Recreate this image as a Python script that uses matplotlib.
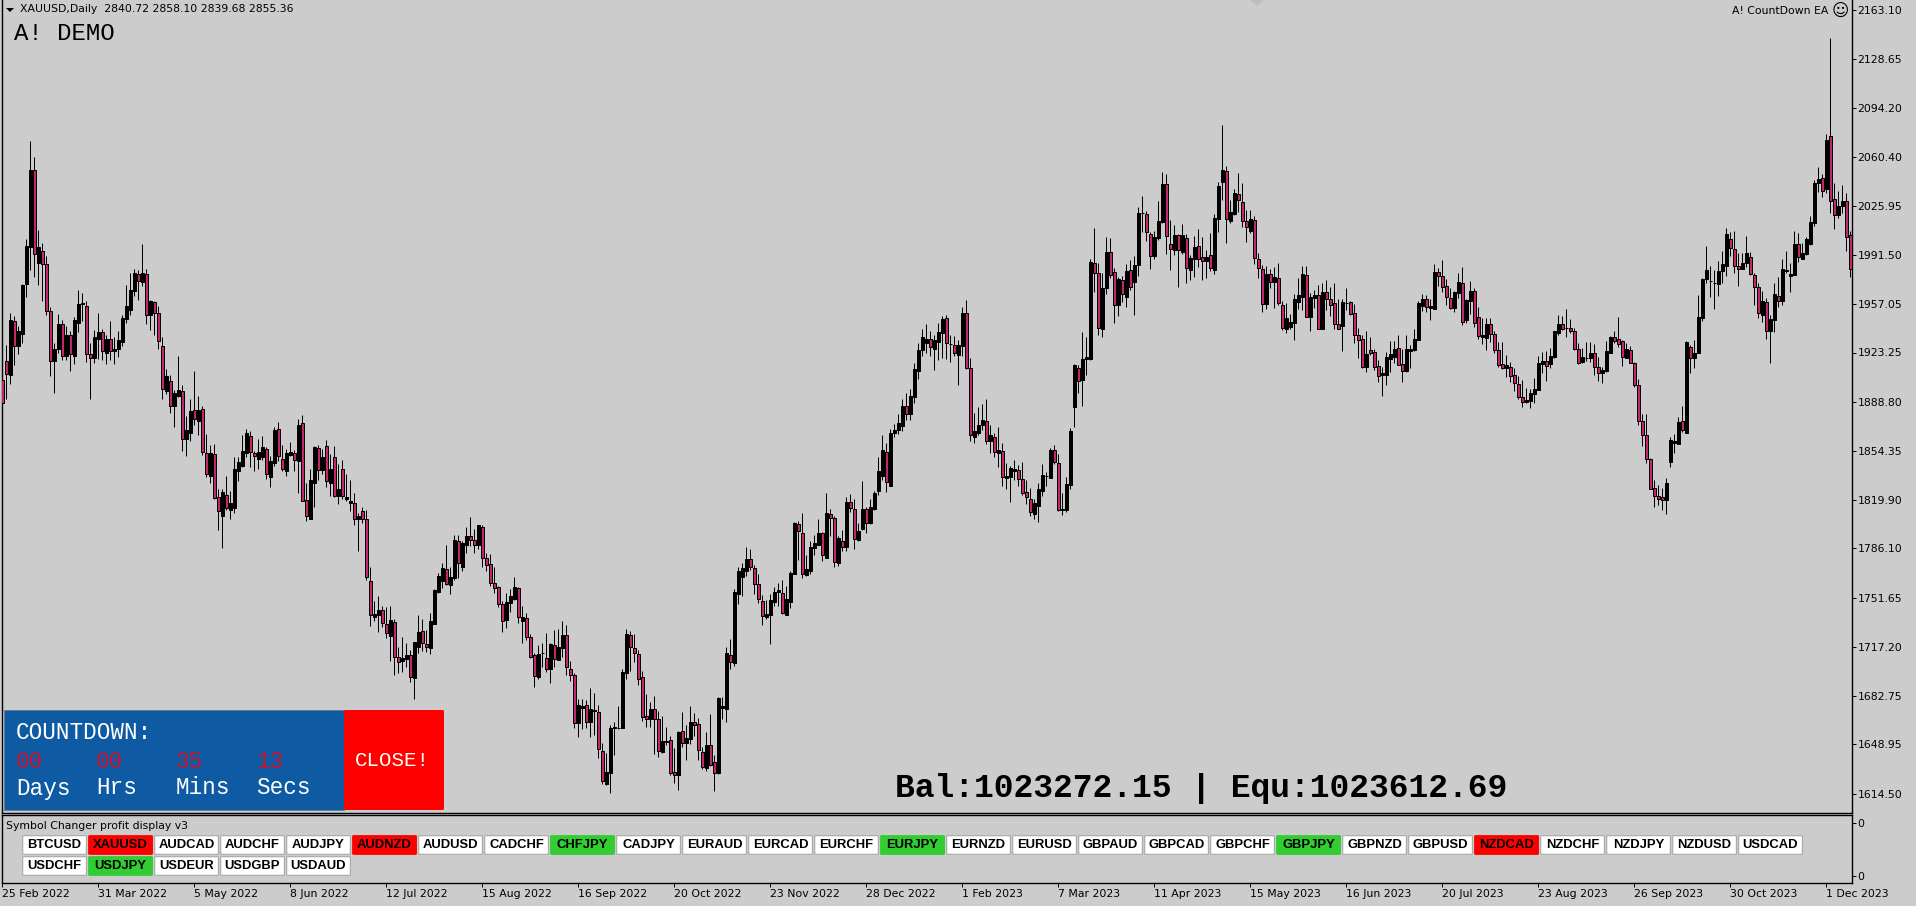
import matplotlib
matplotlib.use("Agg")
import matplotlib.pyplot as plt
import numpy as np
from matplotlib.patches import FancyBboxPatch, Polygon, Rectangle

# ---- candle data, one row = 10 daily bars ----
opens = [
    1904, 1917, 1907.5, 1945, 1928, 1936, 1971, 1997, 2051, 1986,
    1994, 1985, 1952, 1917.5, 1926, 1943, 1921, 1935.5, 1921, 1944,
    1957.5, 1956, 1922.5, 1919.5, 1933, 1937.5, 1922.7, 1933, 1924, 1925.5,
    1930.6, 1946.7, 1953, 1966.3, 1978, 1972.6, 1978, 1949.5, 1958.4, 1950.7,
    1928, 1896, 1903, 1886, 1893, 1896, 1863, 1867, 1883, 1875.5,
    1883.5, 1852.7, 1837, 1852, 1822, 1809, 1823.5, 1813, 1814.4, 1840,
    1843.8, 1852.7, 1865, 1853, 1849, 1850.3, 1855.5, 1836.3, 1846, 1869.5,
    1848.5, 1840.5, 1851.8, 1852.7, 1847.5, 1874, 1820, 1807, 1831.7, 1856.6,
    1841, 1858, 1832, 1850, 1823, 1842, 1821, 1818, 1817.7, 1807,
    1812, 1807, 1763, 1738.3, 1739.7, 1743, 1733, 1725, 1734.4, 1709.9,
    1707.5, 1708.9, 1711.3, 1695.4, 1717.3, 1728.3, 1719.2, 1716.6, 1733.4, 1755.8,
    1763.5, 1771.5, 1760.7, 1765.2, 1791, 1773.3, 1788.7, 1794.8, 1791.8, 1788.7,
    1800.9, 1779.2, 1775, 1761.7, 1758.9, 1747.2, 1736.2, 1748.1, 1750.5, 1758.4,
    1735.5, 1737.2, 1723.9, 1711.5, 1696.4, 1712.7, 1709.2, 1702, 1718.3, 1708,
    1716.2, 1725.3, 1701.5, 1697.3, 1664.2, 1674.4, 1676.3, 1664.9, 1672.1, 1671.4,
    1644.1, 1621.2, 1628.7, 1660.5, 1660.3, 1660.6, 1699.2, 1725.5, 1716.2, 1712,
    1695.9, 1668.6, 1666.5, 1673.5, 1666.5, 1643.6, 1650.4, 1652, 1629.4, 1627.8,
    1658.3, 1650.1, 1653, 1664.4, 1663.2, 1643.6, 1632.4, 1648.5, 1636.6, 1628.7,
    1674.7, 1673.5, 1711.3, 1706.2, 1754.4, 1766.3, 1770.5, 1778.5, 1772.2, 1761,
    1749.1, 1738.1, 1739.7, 1748.9, 1755.4, 1754.7, 1739.7, 1748.6, 1768.4, 1803,
    1796.7, 1767.7, 1770.3, 1786.2, 1788.7, 1796.7, 1779.6, 1810, 1807.2, 1776.1,
    1791, 1787.3, 1818.4, 1813.9, 1791.8, 1799.7, 1813.5, 1803.9, 1813.7, 1826.5,
    1837, 1853.8, 1830, 1867, 1869, 1872, 1886, 1880, 1892, 1910,
    1925, 1930, 1932.5, 1926, 1930.6, 1937.1, 1947.2, 1929, 1928.3, 1921.7,
    1928, 1950.7, 1912.2, 1864.3, 1867.1, 1872.7, 1875, 1861.5, 1863.9, 1853.2,
    1854.1, 1835.7, 1836.4, 1840.6, 1840.8, 1834.5, 1825.4, 1820.5, 1810.2, 1815.8,
    1826.6, 1836.6, 1835.7, 1854.8, 1846.2, 1813, 1813, 1830.8, 1885.3, 1912.2,
    1904, 1918.7, 1918.7, 1985.7, 1978.7, 1939.5, 1968.4, 1993.4, 1979.4, 1956.3,
    1974, 1962.4, 1980.8, 1972.8, 1984.3, 2020.6, 2020.2, 2006.2, 1990.8, 2003.2,
    2014.6, 2041.2, 1999, 1995, 2005.3, 1993.6, 2003.2, 1981, 1988.7, 1997.8,
    1989.9, 1987.5, 1991.3, 1981, 2016.9, 2042.8, 2050.1, 2015.5, 2020.2, 2034,
    2028.8, 2015, 2008.5, 2015.8, 1988.5, 1981.5, 1957.4, 1978.2, 1972.4, 1975.2,
    1956.8, 1939.9, 1941.1, 1944.2, 1958.9, 1962.4, 1977.5, 1948.4, 1961.4, 1963.5,
    1940, 1965.4, 1960.5, 1957.7, 1943.2, 1942, 1957.6, 1958.6, 1950.7, 1935.3,
    1932.7, 1912.9, 1925, 1923.4, 1913.6, 1907.8, 1907.8, 1919, 1919.9, 1926.2,
    1915, 1910.3, 1924.5, 1925, 1932.2, 1955.8, 1960.7, 1954.4, 1953.9, 1979.6,
    1976.8, 1969.8, 1961.2, 1954.4, 1965.1, 1971.7, 1945.8, 1959.5, 1966.3, 1947.9,
    1934.1, 1933.6, 1943.2, 1936.2, 1925, 1915, 1912.2, 1912.9, 1907.3, 1901.2,
    1891.9, 1888.6, 1889.1, 1894, 1897.2, 1915.2, 1917.3, 1915.2, 1919.9, 1936.7,
    1943.2, 1940.1, 1940.4, 1938.3, 1925.7, 1916.6, 1919.4, 1919.4, 1922.7, 1912.9,
    1908.7, 1910.1, 1923.1, 1933.9, 1932.5, 1931.1, 1919.6, 1924.8, 1915.7, 1900.3,
    1875.1, 1865.3, 1848.5, 1828.2, 1822.6, 1821.9, 1820.3, 1846.9, 1860.2, 1859.2,
    1875.1, 1867.1, 1926.9, 1919.6, 1923.1, 1947.2, 1974.5, 1973, 1971.6, 1971.2,
    1980.3, 1984, 2002.5, 1995.5, 1983.8, 1981.7, 1986.1, 1989.9, 1977.3, 1968.9,
    1949.5, 1958.6, 1938.5, 1946, 1962.8, 1959.5, 1980.5, 1977, 1977.7, 1999.2,
    1988.9, 1992.2, 1999.2, 2014.1, 2041.7, 2045.2, 2037.5, 2074.8, 2030.5, 2019.7,
    2025.8, 2029.1, 2005.8,
]
highs = [
    1921, 1928.5, 1951, 1949, 1942, 1971, 2003, 2071, 2060, 2009,
    2000, 1991, 1955, 1930, 1950, 1946, 1942, 1938.5, 1948, 1967,
    1964.7, 1959, 1929.7, 1939, 1950.7, 1940, 1935.5, 1945, 1934, 1938,
    1949.5, 1970.5, 1979, 1982, 1981, 1999, 1982, 1960, 1959, 1956,
    1934, 1911.5, 1907.5, 1897, 1921, 1900.5, 1879, 1890.5, 1910.5, 1893,
    1886, 1866, 1858.5, 1859, 1827.5, 1828, 1837, 1826, 1850, 1850,
    1865.5, 1870, 1868.5, 1854.5, 1862.5, 1864.8, 1857, 1850.8, 1871, 1874.4,
    1858.3, 1856, 1860.4, 1855, 1876.5, 1879.5, 1831.7, 1842, 1858, 1858.5,
    1856, 1862, 1852, 1858, 1845, 1848, 1838, 1834, 1825, 1810.7,
    1815, 1813, 1773, 1749.5, 1752.8, 1745.8, 1745.3, 1745.8, 1736.5, 1716.9,
    1723.9, 1719.7, 1715, 1720.8, 1739.5, 1736.5, 1729, 1740.7, 1757.5, 1768.7,
    1775.7, 1788.5, 1772.9, 1795.3, 1795.5, 1791.5, 1800.9, 1807.9, 1799.5, 1802.7,
    1802.5, 1783.1, 1782.2, 1772.9, 1759.8, 1749.5, 1754.7, 1757.5, 1765.9, 1759.3,
    1745.8, 1740.7, 1726.2, 1712.7, 1718.5, 1720, 1726.7, 1720.1, 1729, 1729.5,
    1735, 1732.3, 1707.3, 1699.2, 1680.5, 1680.5, 1680, 1688.2, 1685, 1676.3,
    1649.7, 1642.7, 1662.5, 1664.9, 1675.8, 1701.5, 1729.5, 1728.3, 1726.2, 1715,
    1700, 1684, 1678.6, 1682.8, 1672.3, 1668.8, 1660.9, 1654.8, 1646.7, 1658.1,
    1671.6, 1662.5, 1675.8, 1670.7, 1667.2, 1647, 1657.4, 1670, 1641.3, 1682.4,
    1682.4, 1716.9, 1722.5, 1757.7, 1772.9, 1775.7, 1787, 1785.7, 1774.7, 1768.2,
    1753.5, 1750, 1754.2, 1758.9, 1761.7, 1764, 1759.8, 1770.3, 1804.6, 1805,
    1810.7, 1781.3, 1791, 1795.3, 1806.7, 1797.8, 1824.7, 1813.7, 1808.8, 1794.8,
    1799, 1821.9, 1824.2, 1820.5, 1803.7, 1833.5, 1815.3, 1820.5, 1826.5, 1850.3,
    1865.5, 1859.7, 1870, 1873, 1880, 1891, 1895, 1898, 1916, 1930,
    1940, 1943, 1938.3, 1935.5, 1943.7, 1948.8, 1949.5, 1935.5, 1934.8, 1932,
    1954.9, 1960, 1919.2, 1881, 1884.9, 1887.2, 1890.5, 1872.3, 1866.7, 1870.9,
    1860.1, 1846.2, 1843.8, 1848, 1844.5, 1846.4, 1834, 1828.2, 1820.5, 1831.7,
    1845.2, 1839.6, 1856.6, 1858.5, 1852.2, 1824.7, 1836.4, 1870.2, 1915.2, 1914.5,
    1937.9, 1933.9, 1988.5, 2010.4, 1985.7, 1979.1, 2004.1, 2003.4, 1982.2, 1975.9,
    1977, 1985.2, 1988, 1990.8, 2025.3, 2032.8, 2022.3, 2007.6, 2008.5, 2029.5,
    2049.6, 2048, 2016, 2012.3, 2006.2, 2013.2, 2006.2, 1991.3, 2004.8, 2009.5,
    2003.9, 1995, 2006.7, 2020.2, 2042.6, 2082.5, 2053.8, 2030, 2037.9, 2048.7,
    2041.7, 2023, 2023, 2018.8, 1993.1, 1984.5, 1983.8, 1981.9, 1983.3, 1985.7,
    1959.6, 1957.7, 1950.2, 1964.2, 1975.6, 1983.8, 1983.8, 1965.1, 1967, 1970.5,
    1972.2, 1974, 1969.3, 1971.7, 1960.5, 1960.5, 1968.4, 1959.6, 1957.2, 1940.2,
    1935.5, 1938.3, 1933.9, 1925.5, 1918, 1913, 1923.9, 1931.3, 1931.3, 1935.5,
    1926, 1935.5, 1928.5, 1939.7, 1959.5, 1964.2, 1963.5, 1960.5, 1985.2, 1982.2,
    1988, 1974.5, 1968.2, 1966.5, 1978.7, 1982.9, 1960.5, 1973.1, 1968.2, 1954.9,
    1947.2, 1947.2, 1947.2, 1938.5, 1930.8, 1930.6, 1921.5, 1916.6, 1912.2, 1906.8,
    1904, 1898.2, 1897.5, 1905.2, 1920.8, 1923.8, 1924.3, 1926.2, 1938.5, 1949.5,
    1948.8, 1953.7, 1946.7, 1940.2, 1929.7, 1926.6, 1930.6, 1930.8, 1929.2, 1920.3,
    1913.3, 1931.5, 1935, 1938.3, 1947.9, 1932, 1929.7, 1927.8, 1916.8, 1904.5,
    1880.2, 1880.2, 1849.2, 1834, 1830.8, 1828.2, 1835.2, 1863.9, 1866.2, 1878.1,
    1885.8, 1931.1, 1928.5, 1932, 1963.5, 1975.2, 1997.8, 1983.8, 1981, 1987.5,
    1994.1, 2010.2, 2007.4, 2008, 1992.7, 1992.7, 2004.8, 1993.6, 1978.7, 1971.7,
    1966.1, 1961.2, 1949.5, 1971.7, 1976.3, 1988.5, 1994.1, 1985.7, 2008, 2006.7,
    2000.1, 2003.9, 2018.8, 2044, 2052.9, 2048.2, 2076.2, 2143.4, 2041.7, 2036.3,
    2040.3, 2034.7, 2008.5,
]
lows = [
    1883, 1891, 1901, 1914.5, 1922, 1930, 1962, 1981, 1976, 1970.5,
    1959, 1949.5, 1907, 1895, 1923, 1918, 1918, 1910.5, 1915, 1937.5,
    1945, 1916.5, 1890.5, 1916, 1918.5, 1918, 1915, 1918, 1915, 1920,
    1928, 1944, 1949.5, 1963, 1960, 1970, 1943, 1939, 1935.5, 1925.7,
    1891, 1894, 1881, 1871.3, 1892, 1854.5, 1851, 1861.5, 1872.5, 1865.5,
    1851.5, 1836, 1832, 1821, 1799, 1786.4, 1813, 1807, 1811, 1833,
    1843.3, 1850, 1843.3, 1840.5, 1841.5, 1848, 1835, 1829, 1843.8, 1847.5,
    1840.5, 1836.8, 1851, 1840, 1825, 1819, 1805, 1807, 1815.4, 1834,
    1838, 1829, 1823, 1822, 1817, 1821, 1819, 1812, 1802.5, 1784.5,
    1804, 1764, 1732, 1735, 1727.6, 1731, 1723.2, 1707.5, 1697.8, 1699,
    1699.6, 1703, 1692.4, 1681, 1713, 1714.3, 1713.8, 1712, 1733.2, 1754.7,
    1758.6, 1760.3, 1754.4, 1764, 1765.2, 1770.5, 1783.1, 1787.8, 1783.1, 1785.5,
    1772.9, 1770.5, 1759.8, 1755.1, 1745.3, 1727.8, 1730.6, 1741.8, 1750, 1734.1,
    1720.1, 1722, 1709.4, 1688.9, 1695, 1703, 1699.8, 1691.7, 1703, 1708,
    1710.3, 1697.5, 1693.6, 1660.2, 1654.4, 1660, 1660.2, 1654.4, 1655.5, 1639.2,
    1621.2, 1620.5, 1614.7, 1641.5, 1660, 1660.2, 1694.7, 1700.6, 1706.9, 1690.8,
    1665.6, 1661.4, 1661.4, 1642.2, 1640.4, 1643.2, 1648.5, 1627.5, 1621.7, 1617,
    1647.4, 1638, 1649.2, 1654.8, 1638, 1631.5, 1630.1, 1633.8, 1616.6, 1628.2,
    1667, 1664.6, 1702, 1703.8, 1747.2, 1753, 1767, 1770.8, 1754.4, 1747.7,
    1732.5, 1737, 1719.5, 1745.8, 1745.8, 1740, 1739.5, 1744.6, 1768.2, 1778,
    1765.6, 1767, 1768.2, 1781.5, 1788.3, 1777.5, 1779.2, 1794.8, 1773.3, 1773.8,
    1784.5, 1784.5, 1811.8, 1785.5, 1791.3, 1799, 1797.1, 1803.2, 1813, 1823.7,
    1834, 1825.4, 1830, 1864, 1866, 1868, 1876, 1876, 1888, 1905,
    1921, 1923, 1920.8, 1911, 1918, 1919.2, 1918.5, 1916.6, 1920.8, 1900.5,
    1920.8, 1911.5, 1861.5, 1860.1, 1865.5, 1869, 1859, 1853.2, 1850.3, 1843.3,
    1829.8, 1828, 1818.9, 1834, 1829.8, 1823.5, 1817.2, 1808.8, 1807, 1804.9,
    1823, 1829.8, 1835.2, 1845.2, 1812.6, 1809.5, 1811.9, 1827.7, 1871.3, 1894.7,
    1885.8, 1907.5, 1918, 1965.6, 1935.8, 1934.4, 1964, 1975.6, 1944.2, 1948.8,
    1958.6, 1955.4, 1967, 1949.5, 1977, 2007.6, 2001.1, 1981.9, 1989, 2002,
    2014.1, 1992.2, 1981, 1991.7, 1969.4, 1992, 1972.2, 1974, 1976.3, 1982.9,
    1974.2, 1975.2, 1980.5, 1978.2, 2007.8, 2030, 1999.7, 2014.1, 2019.3, 2021.8,
    2011.3, 2000.8, 2007.1, 1985.2, 1975.2, 1951.9, 1954, 1968.6, 1954.7, 1956.5,
    1939, 1937.2, 1940, 1932, 1953.5, 1953, 1948.4, 1938.6, 1954.4, 1940,
    1940, 1953, 1948.8, 1940, 1940, 1924.6, 1953, 1949.5, 1930.2, 1919.4,
    1912.7, 1909.9, 1921.5, 1911, 1902.9, 1893, 1900.5, 1909.9, 1915.7, 1914.5,
    1902.8, 1909.6, 1912.6, 1924.3, 1932, 1952.5, 1951.8, 1946, 1953.5, 1969.8,
    1965.8, 1956.5, 1953.5, 1951.8, 1961.2, 1942.7, 1943.7, 1950.2, 1941.3, 1932.9,
    1929.2, 1925, 1930.8, 1922.7, 1913.3, 1911.5, 1906.3, 1902.8, 1896.5, 1890.5,
    1885.3, 1887.7, 1884.4, 1887.7, 1897, 1908.7, 1903.5, 1912.4, 1919.2, 1935.5,
    1939, 1934.3, 1936.7, 1925, 1915.2, 1916.1, 1917.5, 1916.8, 1907.5, 1903.5,
    1901.7, 1909.6, 1922.7, 1930.1, 1927.3, 1913.8, 1919.2, 1915.7, 1899.4, 1872.8,
    1857.8, 1846.2, 1827.5, 1815.4, 1816.8, 1813, 1810.2, 1843.3, 1853.2, 1859,
    1867.9, 1866.7, 1908.7, 1912.6, 1922.7, 1945.5, 1972.1, 1961.9, 1953.9, 1962.8,
    1972.1, 1976.8, 1990.8, 1979.1, 1969.8, 1981.5, 1982.9, 1977.5, 1956.5, 1947.6,
    1944.8, 1932.9, 1916.1, 1937.8, 1955.3, 1956.5, 1979.1, 1965.8, 1977.5, 1986.8,
    1988.5, 1991.7, 1998.7, 2011.8, 2035.8, 2031.9, 2034.7, 2020.7, 2009.9, 2017.4,
    2020.7, 1994.6, 1976.4,
]
closes = [
    1888, 1908, 1946, 1928, 1938, 1970.5, 1998, 2051, 1992, 1997,
    1985, 1952, 1917.5, 1926, 1943, 1921, 1935.5, 1922, 1946, 1957.5,
    1957.7, 1922, 1919.5, 1934, 1937.5, 1924.5, 1933, 1924, 1926, 1932,
    1947.6, 1956, 1967, 1978.7, 1973.5, 1979, 1949.3, 1959.3, 1951, 1931.5,
    1898, 1907, 1886, 1895, 1897, 1863, 1869, 1882, 1877, 1883,
    1853.6, 1838, 1852.7, 1821.4, 1812, 1825.4, 1814.4, 1817.7, 1841.5, 1846.4,
    1854, 1866.7, 1853.6, 1850.8, 1853.6, 1856.9, 1838, 1847.3, 1869, 1850.8,
    1842, 1852.7, 1853.4, 1848, 1872.5, 1819, 1808.8, 1834, 1857.3, 1841,
    1850, 1833, 1842, 1823, 1827.5, 1823, 1822.3, 1819.3, 1807, 1808.8,
    1807, 1766.3, 1739.3, 1740.2, 1743, 1734, 1726.7, 1736, 1710.3, 1706.8,
    1709.4, 1711.3, 1696.4, 1720.4, 1727.6, 1719.7, 1717.3, 1735, 1757, 1766.8,
    1772.4, 1761.2, 1765.9, 1792, 1775.7, 1790.1, 1794.8, 1792, 1788.7, 1802.3,
    1779.2, 1774.7, 1762.1, 1758.6, 1747.2, 1735.5, 1748.4, 1752.8, 1758.9, 1738.3,
    1737.9, 1724.3, 1710.3, 1697, 1712, 1712.9, 1702, 1719.2, 1709, 1717.3,
    1725.3, 1702.9, 1697.3, 1664.2, 1676.5, 1675.8, 1664.9, 1674, 1673, 1645.5,
    1623.3, 1629.6, 1660.4, 1660.8, 1660.6, 1699.9, 1726.2, 1716.9, 1712.7, 1695,
    1668.4, 1666.5, 1673.5, 1666.5, 1644.6, 1651.1, 1651.6, 1629.2, 1627.8, 1657.6,
    1649.7, 1653.2, 1664.4, 1662.8, 1645, 1632.9, 1648.5, 1634.8, 1629.2, 1681.7,
    1675.8, 1712.7, 1706.6, 1755.4, 1770.3, 1772.4, 1778.5, 1773.3, 1761, 1750.5,
    1738.6, 1740, 1749.8, 1755.4, 1756.8, 1740.7, 1750.5, 1768.7, 1803.9, 1798.5,
    1768.4, 1771.5, 1786.9, 1789.7, 1796.7, 1781.5, 1810.7, 1807.6, 1776.6, 1793.4,
    1787.3, 1818.4, 1814.6, 1793, 1798, 1813.9, 1804.1, 1815.3, 1824.7, 1840,
    1854.8, 1832.8, 1866.7, 1869, 1874, 1886, 1880, 1893, 1912, 1925,
    1934, 1933, 1926.9, 1932, 1937.6, 1946.7, 1929.7, 1929.2, 1923.1, 1928.3,
    1950.7, 1912.4, 1865.7, 1868, 1872.3, 1875.8, 1861.5, 1865.3, 1853.9, 1854.8,
    1836.4, 1836.8, 1842.4, 1841.5, 1835, 1825.2, 1822.4, 1811.4, 1817.7, 1827.5,
    1837.3, 1836.8, 1854.8, 1846.8, 1813, 1813.9, 1831, 1868.5, 1914.5, 1903.5,
    1918.5, 1919.9, 1986.4, 1979.1, 1940.4, 1968.4, 1993.4, 1977.7, 1956.3, 1974.5,
    1964.4, 1980.1, 1969.4, 1984.3, 2020.7, 2020.9, 2007.8, 1991, 2004.3, 2015.3,
    2041.2, 2005.1, 1995.5, 2005.3, 1995, 2005.3, 1982.4, 1989.2, 1997.1, 1988.7,
    1987.5, 1989.9, 1982.6, 2017.4, 2039.8, 2050.8, 2016.5, 2021.4, 2034.7, 2030.2,
    2015.5, 2010.9, 2016.5, 1989.2, 1982.2, 1957.4, 1978.4, 1972.4, 1976.4, 1958.1,
    1940.6, 1947.2, 1944.4, 1960.5, 1963.3, 1978.2, 1948.4, 1961.9, 1963.5, 1940,
    1965.8, 1961, 1956.8, 1943.2, 1940, 1958.9, 1957.8, 1950.2, 1935.8, 1932,
    1913.1, 1922.2, 1922.9, 1913.3, 1907, 1908.7, 1919.9, 1922, 1925.5, 1914.5,
    1910.3, 1925.7, 1925.5, 1932.7, 1957.9, 1960.7, 1955.3, 1955.8, 1979.6, 1977,
    1969.3, 1962.3, 1954.2, 1965.6, 1972.6, 1944.6, 1960, 1966.3, 1944.1, 1934.8,
    1935.5, 1943.2, 1936.2, 1925, 1914.5, 1912.4, 1914.3, 1907, 1902.1, 1891.9,
    1888.6, 1890, 1894.7, 1897.7, 1915.7, 1917.3, 1913.8, 1920.8, 1938.3, 1943.2,
    1939.5, 1940.3, 1938.5, 1925.5, 1915.7, 1920.3, 1919.6, 1922.7, 1913.3, 1908.7,
    1910.8, 1924.1, 1934.1, 1931.5, 1929.2, 1920.3, 1925.5, 1916.1, 1900.3, 1875.6,
    1865.8, 1849, 1828, 1823.1, 1821, 1820.3, 1831.7, 1861.8, 1861.1, 1874.6,
    1869, 1930.6, 1919.6, 1923.1, 1947.9, 1974.5, 1980.8, 1973.2, 1971.8, 1980.3,
    1985, 2006.2, 1996.6, 1984, 1981.9, 1985.7, 1992.7, 1978.2, 1969.3, 1950.7,
    1959.3, 1938.1, 1946.5, 1964.2, 1959.5, 1981.5, 1980.7, 1978.2, 1999.2, 1990.3,
    1992.7, 2002.7, 2014.4, 2041.7, 2044.5, 2036.5, 2072, 2029.5, 2019.7, 2025.8,
    2029.1, 2004.4, 1982,
]

price_ticks = [2163.10, 2128.65, 2094.20, 2060.40, 2025.95, 1991.50, 1957.05, 1923.25, 1888.80,
               1854.35, 1819.90, 1786.10, 1751.65, 1717.20, 1682.75, 1648.95, 1614.50]
date_labels = ["25 Feb 2022", "31 Mar 2022", "5 May 2022", "8 Jun 2022", "12 Jul 2022",
               "15 Aug 2022", "16 Sep 2022", "20 Oct 2022", "23 Nov 2022", "28 Dec 2022",
               "1 Feb 2023", "7 Mar 2023", "11 Apr 2023", "15 May 2023", "16 Jun 2023",
               "20 Jul 2023", "23 Aug 2023", "26 Sep 2023", "30 Oct 2023", "1 Dec 2023"]
symbols_row1 = ["BTCUSD", "XAUUSD", "AUDCAD", "AUDCHF", "AUDJPY", "AUDNZD", "AUDUSD", "CADCHF", "CHFJPY",
                "CADJPY", "EURAUD", "EURCAD", "EURCHF", "EURJPY", "EURNZD", "EURUSD", "GBPAUD", "GBPCAD",
                "GBPCHF", "GBPJPY", "GBPNZD", "GBPUSD", "NZDCAD", "NZDCHF", "NZDJPY", "NZDUSD", "USDCAD"]
symbols_row2 = ["USDCHF", "USDJPY", "USDEUR", "USDGBP", "USDAUD"]
symbols_red = ["XAUUSD", "AUDNZD", "NZDCAD"]
symbols_green = ["CHFJPY", "EURJPY", "GBPJPY", "USDJPY"]
countdown_values = ["00", "00", "35", "13"]
countdown_units = ["Days", "Hrs", "Mins", "Secs"]

BG = "#CCCCCC"
BEAR = "#C2266B"
W, H = 1916, 906


def px_axes(left, top, right, bottom):
    return fig.add_axes([left / W, 1 - bottom / H, (right - left) / W, (bottom - top) / H])


fig = plt.figure(figsize=(W / 100, H / 100), dpi=100, facecolor=BG)

# ---- main price pane ----
ax = px_axes(1.5, 0, 1851.5, 812.5)
ax.set_facecolor(BG)
idx = np.arange(len(closes))
o, h, l, c = map(np.array, (opens, highs, lows, closes))
up = c >= o
ax.vlines(idx, l, h, colors="black", linewidth=0.72, zorder=2)
ax.bar(idx, np.abs(c - o), bottom=np.minimum(o, c), width=0.62,
       color=np.where(up, "black", BEAR), edgecolor="black", linewidth=0.72, zorder=3)
ax.set_xlim(-0.2075, 462.29)
ax.set_ylim(2170 - 0.7 * 812.5, 2170)
ax.set_xticks([])
ax.yaxis.tick_right()
ax.set_yticks(price_ticks)
ax.set_yticklabels([f"{p:.2f}" for p in price_ticks])
ax.tick_params(axis="y", length=2.6, width=0.72, pad=1.8, labelsize=7.85)
ax.spines["top"].set_visible(False)
for side in ["left", "right", "bottom"]:
    ax.spines[side].set_linewidth(1.0)

# ---- indicator sub window with the time axis ----
sub = px_axes(1.5, 814.5, 1851.5, 883)
sub.set_facecolor(BG)
sub.set_xlim(-0.2075, 462.29)
sub.set_ylim(0, 1)
sub.yaxis.tick_right()
sub.set_yticks([0.10, 0.87])
sub.set_yticklabels(["0", "0"])
sub.set_xticks(np.arange(len(date_labels)) * 24)
sub.set_xticklabels(date_labels, ha="left")
sub.tick_params(axis="y", length=2.6, width=0.72, pad=1.8, labelsize=7.85)
sub.tick_params(axis="x", length=2.6, width=0.72, pad=1.6, labelsize=7.85)
for side in sub.spines.values():
    side.set_linewidth(1.0)

# ---- overlay in pixel coordinates for the terminal widgets ----
ui = fig.add_axes([0, 0, 1, 1], facecolor="none")
ui.set_xlim(0, W)
ui.set_ylim(H, 0)
ui.axis("off")

ui.add_patch(Polygon([(6, 8), (14, 8), (10, 12)], closed=True, color="black", lw=0))
ui.add_patch(Polygon([(1250, 0), (1264, 0), (1257, 6)], closed=True, color="#BEBEBE", lw=0))
ui.text(20, 9.5, "XAUUSD,Daily  2840.72 2858.10 2839.68 2855.36", fontsize=7.85, va="center", ha="left")
ui.text(1828, 10.5, "A! CountDown EA", fontsize=7.85, va="center", ha="right")
ui.text(1840, 10.5, "\u263a", fontsize=12, va="center", ha="center")
ui.text(14, 34, "A! DEMO", family="Liberation Mono", fontsize=17.3, va="center", ha="left")

# countdown box
MONO = "Liberation Mono"
ui.add_patch(Rectangle((4, 710), 340, 99.5, facecolor="#0E5BA3", edgecolor="#5E7F9E", linewidth=0.7))
ui.add_patch(FancyBboxPatch((344, 710), 100, 100, boxstyle="round,pad=0,rounding_size=1.5",
                            facecolor="#FF0000", edgecolor="none"))
ui.text(16, 732.5, "COUNTDOWN:", family=MONO, fontsize=16.3, color="white", va="center", ha="left")
for k, (val, unit) in enumerate(zip(countdown_values, countdown_units)):
    ui.text(16 + 80 * k, 762, val, family=MONO, fontsize=16.3, color="#C4122F", va="center", ha="left")
    ui.text(16 + 80 * k, 788, unit, family=MONO, fontsize=16.3, color="white", va="center", ha="left")
ui.text(355, 761, "CLOSE!", family=MONO, fontsize=15, color="white", va="center", ha="left")

ui.text(895, 788, "Bal:1023272.15 | Equ:1023612.69", family=MONO, weight="bold", fontsize=23.8,
        va="center", ha="left")

# symbol buttons
ui.text(6, 825.7, "Symbol Changer profit display v3", fontsize=7.85, va="center", ha="left")
for row_top, row in [(835.7, symbols_row1), (856.7, symbols_row2)]:
    for k, name in enumerate(row):
        fill = "#FF0000" if name in symbols_red else "#32CD32" if name in symbols_green else "white"
        edge = fill if fill != "white" else "#A8A8A8"
        ui.add_patch(FancyBboxPatch((22.7 + 66 * k, row_top), 63.7, 18.6,
                                    boxstyle="round,pad=0,rounding_size=0.8",
                                    facecolor=fill, edgecolor=edge, linewidth=0.8))
        ui.text(22.7 + 66 * k + 31.8, row_top + 9.6, name, family="Liberation Sans", weight="bold",
                fontsize=9.4, va="center", ha="center", color="black")

fig.savefig("out.png", dpi=100, facecolor=BG)
